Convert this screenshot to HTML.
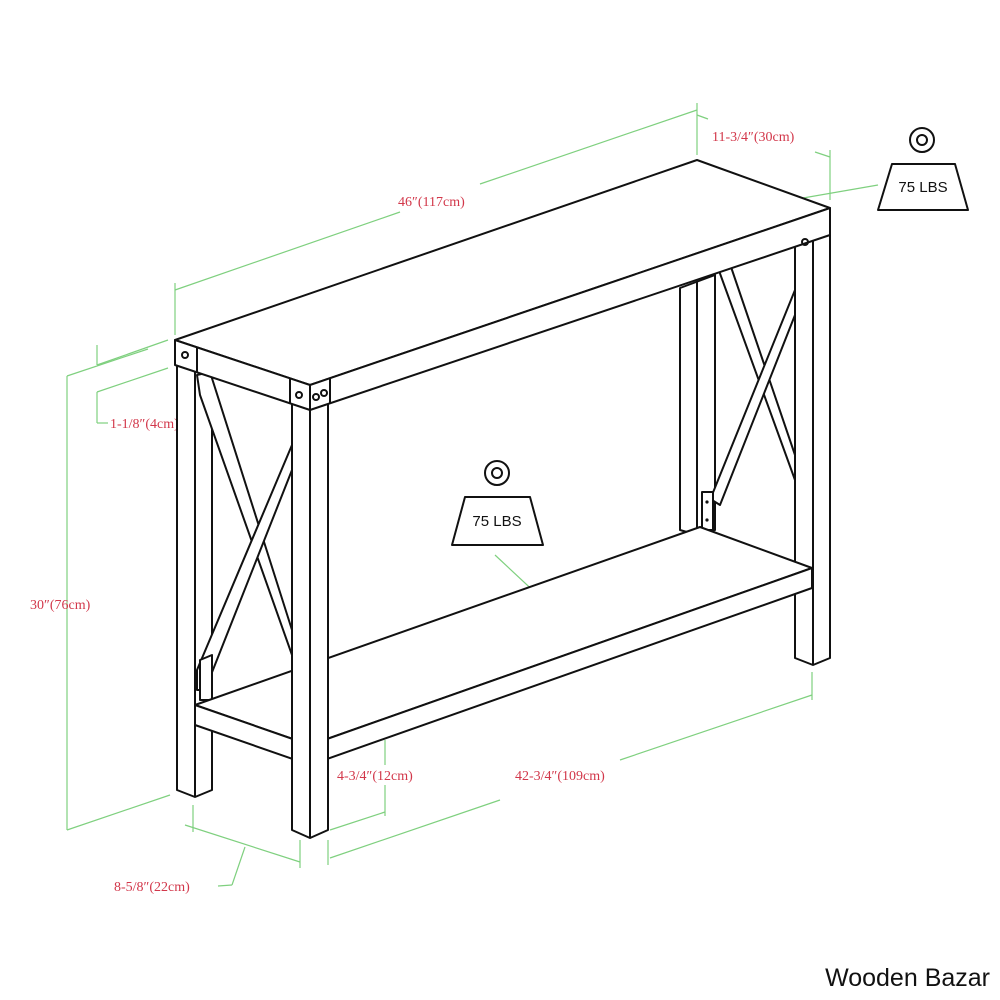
<!DOCTYPE html>
<html><head><meta charset="utf-8"><style>
html,body{margin:0;padding:0;background:#fff;}
svg{display:block}
.b{stroke:#111;stroke-width:2;fill:none;stroke-linejoin:round}
.bf{stroke:#111;stroke-width:2;fill:#fff;stroke-linejoin:round}
.g{stroke:#7fd07f;stroke-width:1.2;fill:none}
.t{fill:#d2374a;font-family:"Liberation Serif",serif;font-size:14px}
</style></head><body>
<svg width="1000" height="1000" viewBox="0 0 1000 1000" xmlns="http://www.w3.org/2000/svg">
<g class="g">
<line x1="175" y1="290" x2="400" y2="212"/><line x1="480" y1="184" x2="697" y2="110"/>
<line x1="175" y1="283" x2="175" y2="335"/><line x1="697" y1="103" x2="697" y2="155"/>
<line x1="697" y1="115" x2="708" y2="119"/><line x1="815" y1="152" x2="830" y2="157"/>
<line x1="830" y1="150" x2="830" y2="200"/>
<line x1="878" y1="185" x2="705" y2="215"/>
<line x1="97" y1="365" x2="168" y2="340"/><line x1="97" y1="345" x2="97" y2="365"/>
<line x1="97" y1="392" x2="168" y2="368"/><line x1="97" y1="392" x2="97" y2="423"/><line x1="97" y1="423" x2="108" y2="423"/>
<line x1="67" y1="376" x2="148" y2="349"/><line x1="67" y1="376" x2="67" y2="830"/>
<line x1="67" y1="830" x2="170" y2="795"/>
<line x1="185" y1="825" x2="300" y2="862"/><line x1="193" y1="805" x2="193" y2="832"/>
<line x1="300" y1="840" x2="300" y2="868"/><line x1="328" y1="840" x2="328" y2="865"/>
<line x1="245" y1="847" x2="232" y2="885"/><line x1="232" y1="885" x2="218" y2="886"/>
<line x1="385" y1="740" x2="385" y2="765"/><line x1="385" y1="785" x2="385" y2="816"/>
<line x1="330" y1="830" x2="385" y2="812"/>
<line x1="330" y1="858" x2="500" y2="800"/><line x1="620" y1="760" x2="812" y2="695"/>
<line x1="812" y1="672" x2="812" y2="700"/>
<line x1="495" y1="555" x2="570" y2="625"/>
</g>
<g fill="#7fd07f">
<polygon points="705,215 714,210 715,218"/>
<polygon points="570,625 561,620 565,615"/>
</g>
<text class="t" x="398" y="206">46″(117cm)</text>
<text class="t" x="712" y="141">11-3/4″(30cm)</text>
<text class="t" x="110" y="428">1-1/8″(4cm)</text>
<text class="t" x="30" y="609">30″(76cm)</text>
<text class="t" x="337" y="780">4-3/4″(12cm)</text>
<text class="t" x="515" y="780">42-3/4″(109cm)</text>
<text class="t" x="114" y="891">8-5/8″(22cm)</text>
<!-- back-left leg -->
<polygon class="bf" points="177,365 212,365 212,790 195,797 177,790"/>
<line class="b" x1="195" y1="365" x2="195" y2="797"/>
<!-- back-right leg -->
<polygon class="bf" points="680,288 715,275 715,530 697,535 680,530"/>
<line class="b" x1="697" y1="282" x2="697" y2="535"/>
<!-- right X brace -->
<polygon class="bf" points="718,268 730,264 795,455 795,480"/>
<polygon class="bf" points="795,290 795,315 720,505 712,500 712,495"/>
<rect class="bf" x="702" y="492" width="11" height="38"/>
<circle cx="707" cy="502" r="1.6" fill="#111"/><circle cx="707" cy="520" r="1.6" fill="#111"/>
<!-- left X brace -->
<polygon class="bf" points="197,375 210,372 292,630 292,655 200,395"/>
<polygon class="bf" points="292,445 292,470 205,690 197,690 197,670"/>
<polygon class="bf" points="200,660 212,655 212,700 200,700"/>
<!-- front-right leg -->
<polygon class="bf" points="795,235 830,222 830,658 813,665 795,658"/>
<line class="b" x1="813" y1="230" x2="813" y2="665"/>
<!-- shelf -->
<polygon class="bf" points="195,705 700,527 812,568 310,745"/>
<polygon class="bf" points="195,705 310,745 310,765 195,725"/>
<polygon class="bf" points="310,745 812,568 812,588 310,765"/>
<!-- front-left leg -->
<polygon class="bf" points="292,400 328,400 328,830 310,838 292,830"/>
<line class="b" x1="310" y1="400" x2="310" y2="838"/>
<!-- top slab -->
<polygon class="bf" points="175,340 697,160 830,208 310,385"/>
<polygon class="bf" points="175,340 310,385 310,410 175,365"/>
<polygon class="bf" points="310,385 830,208 830,235 310,410"/>
<line class="b" x1="197" y1="348" x2="197" y2="372"/>
<line class="b" x1="290" y1="378" x2="290" y2="403"/>
<line class="b" x1="330" y1="379" x2="330" y2="404"/>
<circle cx="185" cy="355" r="3" class="b" stroke-width="1.5"/>
<circle cx="299" cy="395" r="3" class="b" stroke-width="1.5"/>
<circle cx="316" cy="397" r="3" class="b" stroke-width="1.5"/>
<circle cx="324" cy="393" r="3" class="b" stroke-width="1.5"/>
<circle cx="805" cy="242" r="3" class="b" stroke-width="1.5"/>
<g class="b" stroke-width="1.5">
<circle cx="922" cy="140" r="12"/><circle cx="922" cy="140" r="5"/>
<polygon class="bf" stroke-width="1.5" points="892,164 955,164 968,210 878,210"/>
<circle cx="497" cy="473" r="12"/><circle cx="497" cy="473" r="5"/>
<polygon class="bf" stroke-width="1.5" points="465,497 530,497 543,545 452,545"/>
</g>
<text x="923" y="192" text-anchor="middle" font-family="Liberation Sans,sans-serif" font-size="15" fill="#111">75 LBS</text>
<text x="497" y="526" text-anchor="middle" font-family="Liberation Sans,sans-serif" font-size="15" fill="#111">75 LBS</text>
<text x="990" y="986" text-anchor="end" font-family="Liberation Sans,sans-serif" font-size="25" fill="#111">Wooden Bazar</text>
</svg>
</body></html>
